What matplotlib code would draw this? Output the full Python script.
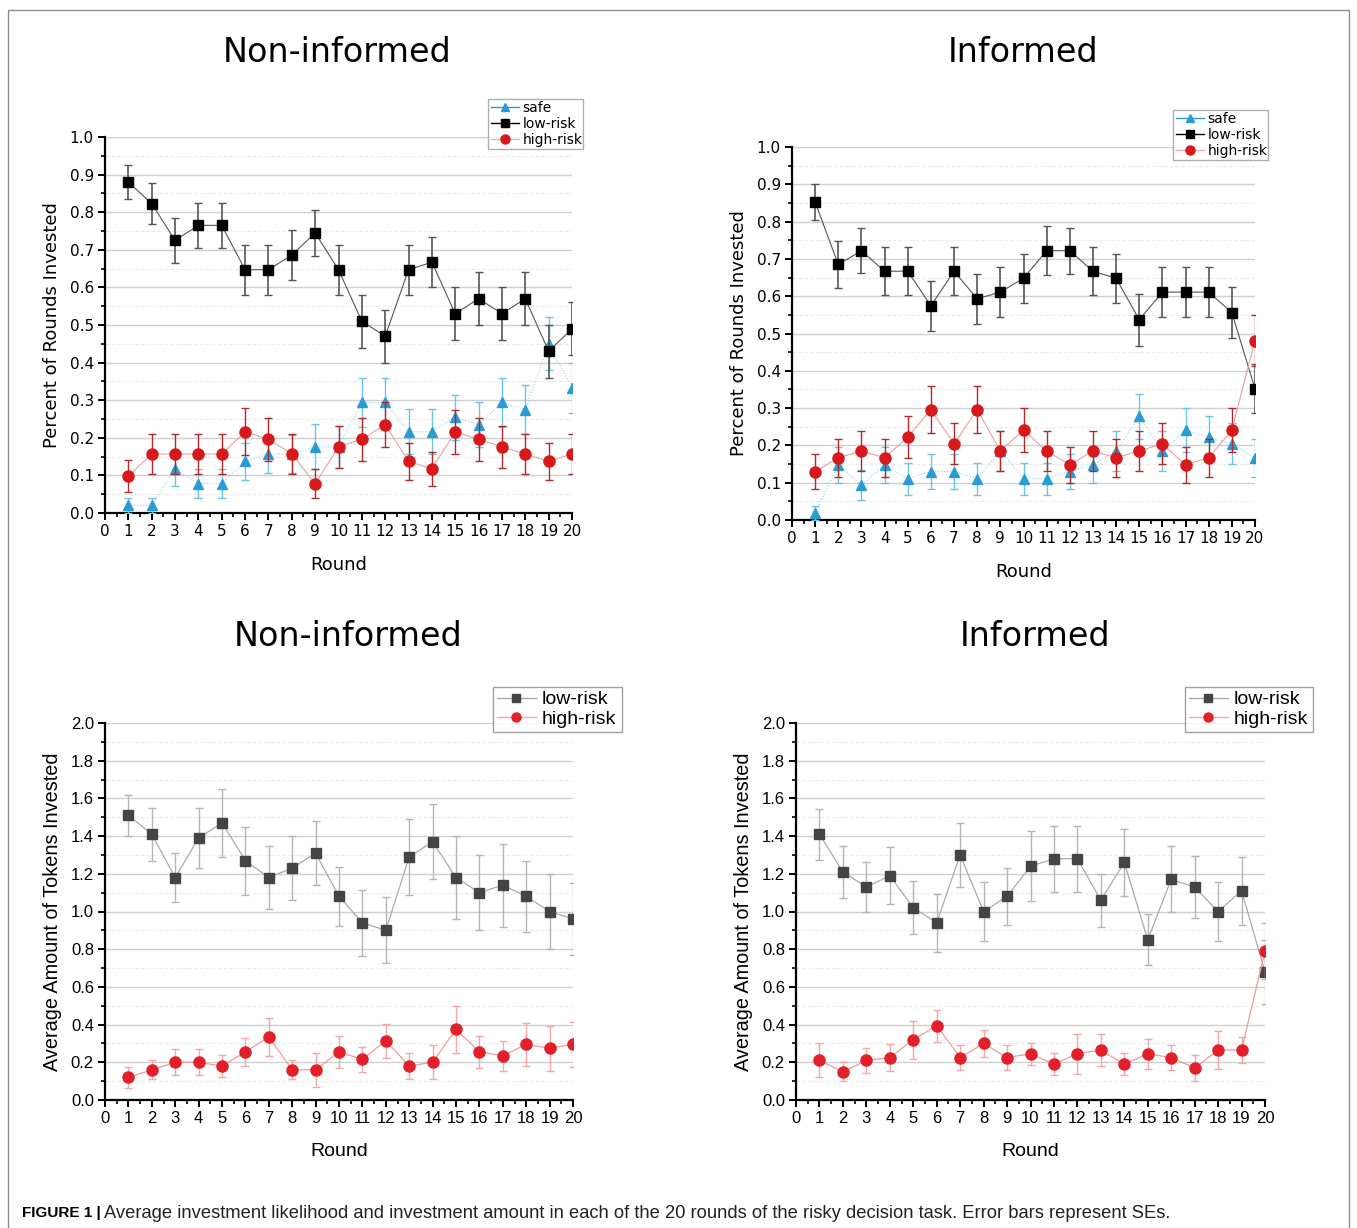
import numpy as np
import matplotlib
matplotlib.use('Agg')
import matplotlib.pyplot as plt
from matplotlib.patches import Rectangle
from matplotlib.lines import Line2D
from matplotlib.ticker import MultipleLocator

# Rounds 1..20
rounds = list(range(1, 21))

# Panel A: Non-informed, percent of rounds invested
ni_safe = [0.02, 0.02, 0.118, 0.078, 0.078, 0.137, 0.157, 0.157, 0.176, 0.176,
           0.294, 0.294, 0.216, 0.216, 0.255, 0.235, 0.294, 0.275, 0.45, 0.333]
ni_safe_se = [0.02, 0.02, 0.045, 0.038, 0.038, 0.048, 0.05, 0.05, 0.06, 0.055,
              0.065, 0.065, 0.06, 0.06, 0.06, 0.06, 0.065, 0.065, 0.07, 0.066]
ni_low = [0.88, 0.823, 0.725, 0.765, 0.765, 0.647, 0.647, 0.686, 0.745, 0.647,
          0.51, 0.47, 0.647, 0.667, 0.53, 0.57, 0.53, 0.57, 0.43, 0.49]
ni_low_se = [0.045, 0.055, 0.06, 0.06, 0.06, 0.067, 0.067, 0.066, 0.062, 0.067,
             0.07, 0.07, 0.067, 0.066, 0.07, 0.07, 0.07, 0.07, 0.07, 0.07]
ni_high = [0.098, 0.157, 0.157, 0.157, 0.157, 0.216, 0.196, 0.157, 0.078, 0.176,
           0.196, 0.235, 0.137, 0.118, 0.216, 0.196, 0.176, 0.157, 0.137, 0.157]
ni_high_se = [0.043, 0.052, 0.052, 0.052, 0.052, 0.062, 0.057, 0.052, 0.038, 0.055,
              0.057, 0.06, 0.048, 0.045, 0.058, 0.057, 0.055, 0.052, 0.048, 0.052]

# Panel B: Informed, percent of rounds invested
in_safe = [0.019, 0.148, 0.093, 0.148, 0.111, 0.130, 0.130, 0.111, 0.185, 0.111,
           0.111, 0.130, 0.148, 0.185, 0.278, 0.185, 0.241, 0.222, 0.204, 0.167]
in_safe_se = [0.019, 0.048, 0.04, 0.048, 0.043, 0.046, 0.046, 0.043, 0.053, 0.043,
              0.043, 0.046, 0.048, 0.053, 0.061, 0.053, 0.058, 0.057, 0.055, 0.051]
in_low = [0.852, 0.685, 0.722, 0.667, 0.667, 0.574, 0.667, 0.593, 0.611, 0.648,
          0.722, 0.722, 0.667, 0.648, 0.537, 0.611, 0.611, 0.611, 0.556, 0.352]
in_low_se = [0.048, 0.063, 0.061, 0.064, 0.064, 0.067, 0.064, 0.067, 0.067, 0.065,
             0.065, 0.062, 0.064, 0.065, 0.07, 0.066, 0.068, 0.066, 0.068, 0.065]
in_high = [0.130, 0.167, 0.185, 0.167, 0.222, 0.296, 0.204, 0.296, 0.185, 0.241,
           0.185, 0.148, 0.185, 0.167, 0.185, 0.204, 0.148, 0.167, 0.241, 0.481]
in_high_se = [0.046, 0.051, 0.053, 0.051, 0.057, 0.062, 0.055, 0.062, 0.053, 0.058,
              0.053, 0.048, 0.053, 0.051, 0.053, 0.055, 0.048, 0.051, 0.058, 0.068]

# Panel C: Non-informed, tokens invested
ni_tok_low = [1.51, 1.41, 1.18, 1.39, 1.47, 1.27, 1.18, 1.23, 1.31, 1.08,
              0.94, 0.90, 1.29, 1.37, 1.18, 1.10, 1.14, 1.08, 1.00, 0.96]
ni_tok_low_se = [0.11, 0.14, 0.13, 0.16, 0.18, 0.18, 0.165, 0.17, 0.17, 0.155,
                 0.175, 0.175, 0.2, 0.2, 0.22, 0.2, 0.22, 0.19, 0.2, 0.19]
ni_tok_high = [0.12, 0.16, 0.20, 0.20, 0.18, 0.255, 0.335, 0.16, 0.16, 0.255,
               0.215, 0.315, 0.18, 0.20, 0.375, 0.255, 0.235, 0.295, 0.275, 0.295]
ni_tok_high_se = [0.055, 0.05, 0.07, 0.07, 0.06, 0.075, 0.1, 0.05, 0.09, 0.085,
                  0.065, 0.09, 0.07, 0.09, 0.125, 0.085, 0.08, 0.115, 0.12, 0.12]

# Panel D: Informed, tokens invested
in_tok_low = [1.41, 1.21, 1.13, 1.19, 1.02, 0.94, 1.30, 1.00, 1.08, 1.24,
              1.28, 1.28, 1.06, 1.26, 0.85, 1.17, 1.13, 1.00, 1.11, 0.68]
in_tok_low_se = [0.135, 0.14, 0.135, 0.15, 0.14, 0.155, 0.17, 0.155, 0.15, 0.185,
                 0.175, 0.175, 0.14, 0.18, 0.135, 0.175, 0.165, 0.155, 0.18, 0.17]
in_tok_high = [0.21, 0.15, 0.21, 0.225, 0.32, 0.395, 0.225, 0.30, 0.225, 0.245,
               0.19, 0.245, 0.265, 0.19, 0.245, 0.225, 0.17, 0.265, 0.265, 0.79]
in_tok_high_se = [0.09, 0.05, 0.065, 0.07, 0.1, 0.085, 0.065, 0.07, 0.065, 0.06,
                  0.06, 0.105, 0.085, 0.06, 0.08, 0.065, 0.07, 0.1, 0.07, 0.15]

W, H = 1357, 1228
fig = plt.figure(figsize=(W / 100, H / 100), dpi=100)


def box(x0, x1, ytop, ybot):
    return [x0 / W, 1 - ybot / H, (x1 - x0) / W, (ybot - ytop) / H]


def style_axes(ax, ymax, ymaj, ymin, font, lsize):
    ax.set_xlim(0, 20)
    ax.set_ylim(0, ymax)
    ax.xaxis.set_major_locator(MultipleLocator(1))
    ax.xaxis.set_minor_locator(MultipleLocator(0.5))
    ax.yaxis.set_major_locator(MultipleLocator(ymaj))
    ax.yaxis.set_minor_locator(MultipleLocator(ymin))
    ax.set_yticklabels([f'{v:.1f}' for v in ax.get_yticks()])
    ax.grid(True, which='major', axis='y', color='#cfcfcf', lw=1.0)
    ax.grid(True, which='minor', axis='y', color='#ececec', lw=0.8, ls='--')
    ax.set_axisbelow(True)
    for s in ['top', 'right']:
        ax.spines[s].set_visible(False)
    for s in ['left', 'bottom']:
        ax.spines[s].set_linewidth(1.6)
    ax.tick_params(which='major', direction='out', length=5, width=1.4,
                   labelsize=lsize, pad=3)
    ax.tick_params(which='minor', direction='out', length=3, width=1.2)
    for lab in ax.get_xticklabels() + ax.get_yticklabels():
        lab.set_fontfamily(font)
    ax.margins(x=0)


def legend_box(ax, handles, rect, size, font, ecol):
    leg = fig.legend(handles=handles, loc='center', bbox_to_anchor=rect,
                     bbox_transform=fig.transFigure, mode='expand',
                     prop={'family': font, 'size': size},
                     frameon=True, fancybox=False, edgecolor=ecol,
                     handlelength=2.0, handletextpad=0.3, borderpad=0.2,
                     labelspacing=0.12, borderaxespad=0)
    leg.get_frame().set_linewidth(1.0)


def pct_panel(rect, title, title_xy, leg_rect, safe, safe_se, low, low_se, high, high_se):
    ax = fig.add_axes(rect)
    font = 'DejaVu Sans'
    ax.errorbar(rounds, safe, yerr=safe_se, color='#8fd3f0', lw=0.8, ls=':',
                marker='^', ms=7, mfc='#2b9bd3', mec='#2b9bd3',
                ecolor='#6cc3ea', elinewidth=1.0, capsize=3, capthick=1.0,
                zorder=3)
    ax.errorbar(rounds, low, yerr=low_se, color='#555555', lw=0.8, ls='-',
                marker='s', ms=7, mfc='black', mec='black',
                ecolor='#555555', elinewidth=1.2, capsize=3, capthick=1.0,
                zorder=4)
    ax.errorbar(rounds, high, yerr=high_se, color='#e8a0a0', lw=0.8, ls='-',
                marker='o', ms=8, mfc='#d7191c', mec='#d7191c',
                ecolor='#b02a2a', elinewidth=1.0, capsize=3, capthick=1.0,
                zorder=5)
    style_axes(ax, 1.0, 0.1, 0.05, font, 11)
    ax.set_xlabel('Round', fontsize=13, family=font, labelpad=12)
    ax.set_ylabel('Percent of Rounds Invested', fontsize=13, family=font,
                  labelpad=6)
    handles = [
        Line2D([], [], color='#2b9bd3', lw=1.0, marker='^', ms=6, label='safe'),
        Line2D([], [], color='black', lw=1.0, marker='s', ms=6, label='low-risk'),
        Line2D([], [], color='#f0b0b0', lw=1.0, marker='o', ms=6.5,
               mfc='#d7191c', mec='#d7191c', label='high-risk'),
    ]
    legend_box(ax, handles, leg_rect, 10, font, '#999999')
    fig.text(title_xy[0] / W, 1 - title_xy[1] / H, title, fontsize=24,
             family=font, ha='center', va='center')
    return ax


def tok_panel(rect, title, title_xy, leg_rect, low, low_se, high, high_se):
    ax = fig.add_axes(rect)
    font = 'Liberation Sans'
    ax.errorbar(rounds, low, yerr=low_se, color='#aaaaaa', lw=0.9,
                marker='s', ms=7, mfc='#444444', mec='#444444',
                ecolor='#b5b5b5', elinewidth=1.0, capsize=3, capthick=1.0,
                zorder=3)
    ax.errorbar(rounds, high, yerr=high_se, color='#ef9a9a', lw=0.9,
                marker='o', ms=8, mfc='#e3202a', mec='#e3202a',
                ecolor='#f0a8a8', elinewidth=1.0, capsize=3, capthick=1.0,
                zorder=4)
    style_axes(ax, 2.0, 0.2, 0.1, font, 12)
    ax.set_xlabel('Round', fontsize=14, family=font, labelpad=12)
    ax.set_ylabel('Average Amount of Tokens Invested', fontsize=14.3, family=font,
                  labelpad=6)
    handles = [
        Line2D([], [], color='#aaaaaa', lw=1.0, marker='s', ms=6,
               mfc='#444444', mec='#444444', label='low-risk'),
        Line2D([], [], color='#f0a8a8', lw=1.0, marker='o', ms=6.5,
               mfc='#e3202a', mec='#e3202a', label='high-risk'),
    ]
    legend_box(ax, handles, leg_rect, 14, font, '#888888')
    fig.text(title_xy[0] / W, 1 - title_xy[1] / H, title, fontsize=24,
             family='DejaVu Sans', ha='center', va='center')
    return ax


def leg_rect(x0, x1, ytop, ybot):
    return (x0 / W, 1 - ybot / H, (x1 - x0) / W, (ybot - ytop) / H)


pct_panel(box(105, 572, 137, 513), 'Non-informed', (337, 53),
          leg_rect(488, 583, 96, 152),
          ni_safe, ni_safe_se, ni_low, ni_low_se, ni_high, ni_high_se)
pct_panel(box(792, 1255, 147, 520), 'Informed', (1023, 53),
          leg_rect(1173, 1268, 107, 163),
          in_safe, in_safe_se, in_low, in_low_se, in_high, in_high_se)
tok_panel(box(105, 573, 723, 1100), 'Non-informed', (348, 637),
          leg_rect(493, 622, 684, 735),
          ni_tok_low, ni_tok_low_se, ni_tok_high, ni_tok_high_se)
tok_panel(box(796, 1265, 723, 1100), 'Informed', (1035, 637),
          leg_rect(1185, 1313, 684, 735),
          in_tok_low, in_tok_low_se, in_tok_high, in_tok_high_se)

# outer frame of the figure
fig.patches.append(Rectangle((8 / W, -0.01), (1349 - 8) / W, 1 - 10 / H + 0.01,
                             transform=fig.transFigure, fill=False,
                             edgecolor='#8a8a8a', lw=1.0))

# caption
fig.text(22 / W, 1 - 1213 / H, 'FIGURE 1 |', fontsize=11, weight='bold',
         family='Liberation Sans', va='center')
fig.text(104 / W, 1 - 1213 / H,
         'Average investment likelihood and investment amount in each of the 20 '
         'rounds of the risky decision task. Error bars represent SEs.',
         fontsize=13.2, family='Liberation Sans', va='center', color='#222222')

fig.savefig('out.png', dpi=100)
